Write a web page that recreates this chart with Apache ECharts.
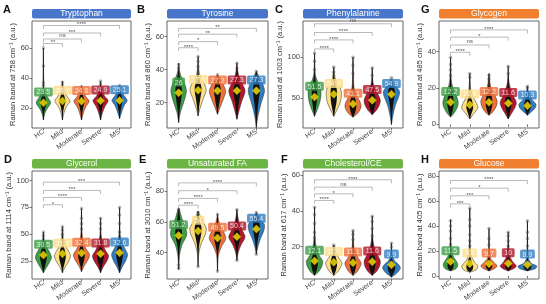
<!DOCTYPE html>
<html><head><meta charset="utf-8">
<script src="https://cdn.jsdelivr.net/npm/echarts@6/dist/echarts.min.js"></script>
<style>html,body{margin:0;padding:0;background:#fff}#c{width:546px;height:304px}</style>
</head><body><div id="c"></div>
<script>
// ---------------- data ----------------
const categories = ['HC', 'Mild', 'Moderate', 'Severe', 'MS'];
const panelIds = ['A', 'B', 'C', 'G', 'D', 'E', 'F', 'H'];
const panelTitles = ['Tryptophan', 'Tyrosine', 'Phenylalanine', 'Glycogen', 'Glycerol', 'Unsaturated FA', 'Cholesterol/CE', 'Glucose'];
const wavenumbers = ['758', '860', '1003', '485', '1114', '3010', '617', '405'];

const meansA = [23.5, 24.7, 24.6, 24.9, 25.1];
const meansB = [26, 27.6, 27.2, 27.3, 27.3];
const meansC = [51.5, 54.9, 43.1, 47.5, 54.9];
const meansG = [12.2, 10.8, 12.2, 11.6, 10.3];
const meansD = [30.5, 31.7, 32.4, 31.8, 32.6];
const meansE = [51.2, 54, 49.5, 50.4, 55.4];
const meansF = [12.1, 11.3, 11.1, 11.6, 9.9];
const meansH = [11.5, 9.8, 9.7, 10, 8.9];

const yTicksA = [20, 40, 60];
const yTicksB = [20, 40, 60];
const yTicksC = [50, 100];
const yTicksG = [0, 20, 40];
const yTicksD = [25, 50, 75, 100];
const yTicksE = [40, 60, 80];
const yTicksF = [20, 40, 60];
const yTicksH = [0, 20, 40, 60, 80];

const yRangeA = [6.7, 78];
const yRangeB = [4.7, 69.5];
const yRangeC = [13.8, 144];
const yRangeG = [-2, 56.9];
const yRangeD = [8.2, 109];
const yRangeE = [22.9, 93];
const yRangeF = [2, 62.2];
const yRangeH = [-2.4, 83.8];

// [target category (1-based), y value, label] ; all brackets start at HC
const bracketsA = [[2, 63, '**'], [3, 66, 'ns'], [4, 70, '***'], [5, 75, '****']];
const bracketsB = [[2, 53.3, '****'], [3, 57, '*'], [4, 61.5, '**'], [5, 65, '**']];
const bracketsC = [[2, 110, '****'], [3, 121, '****'], [4, 130, '****'], [5, 140.6, 'ns']];
const bracketsG = [[2, 39.7, '****'], [3, 43.7, 'ns'], [4, 48, '*'], [5, 52, '****']];
const bracketsD = [[2, 77.5, '*'], [3, 84.3, '****'], [4, 90.9, '***'], [5, 98.6, '***']];
const bracketsE = [[2, 70.8, '****'], [3, 75.2, '****'], [4, 80.2, '*'], [5, 85.3, '****']];
const bracketsF = [[2, 45.8, '****'], [3, 49.5, '*'], [4, 53.2, 'ns'], [5, 57.3, '****']];
const bracketsH = [[2, 57.6, '***'], [3, 64, '***'], [4, 70.1, '*'], [5, 76.2, '****']];

// violin outlines per category: [value, relative half width]
const violinsA = [
  [[12, 0], [16, 0.15], [19, 0.4], [23.5, 0.9], [27, 0.55], [31, 0.12], [37, 0.04], [60, 0]],
  [[12, 0], [17, 0.2], [21, 0.5], [24.5, 0.95], [28, 0.55], [33, 0.1], [38, 0]],
  [[12, 0], [17, 0.25], [21, 0.55], [24.5, 0.95], [28, 0.5], [33, 0.1], [35, 0]],
  [[12, 0], [17, 0.25], [21, 0.55], [25, 0.95], [28, 0.5], [33, 0.1], [38, 0]],
  [[13, 0], [18, 0.3], [22, 0.6], [25, 0.95], [28, 0.6], [32, 0.1], [35, 0]]
];
const violinsB = [
  [[8, 0], [14, 0.2], [20, 0.6], [27, 0.95], [32, 0.7], [36, 0.3], [40, 0.08], [44, 0]],
  [[12, 0], [16, 0.2], [22, 0.6], [28, 1.0], [33, 0.6], [37, 0.2], [42, 0.05], [48, 0]],
  [[13, 0], [17, 0.3], [22, 0.7], [27, 1.0], [31, 0.7], [35, 0.25], [37, 0]],
  [[10, 0], [15, 0.25], [21, 0.6], [27, 1.0], [31, 0.7], [35, 0.3], [40, 0.08], [44, 0]],
  [[5, 0], [12, 0.2], [20, 0.6], [27, 1.0], [31, 0.8], [35, 0.4], [38, 0.1], [39, 0]]
];
const violinsC = [
  [[28, 0], [35, 0.3], [45, 0.65], [55, 0.8], [65, 0.7], [72, 0.3], [80, 0.08], [105, 0]],
  [[28, 0], [35, 0.35], [45, 0.8], [55, 0.95], [63, 0.8], [70, 0.3], [80, 0.08], [88, 0]],
  [[27, 0], [32, 0.6], [40, 1.0], [47, 0.8], [55, 0.35], [65, 0.1], [80, 0.04], [100, 0]],
  [[30, 0], [35, 0.5], [42, 0.9], [48, 1.0], [55, 0.7], [62, 0.3], [70, 0.08], [87, 0]],
  [[18, 0], [30, 0.2], [42, 0.5], [52, 0.9], [58, 1.0], [63, 0.7], [68, 0.2], [73, 0]]
];
const violinsG = [
  [[4, 0], [6, 0.4], [9, 0.8], [12, 0.95], [16, 0.7], [20, 0.3], [25, 0.08], [37, 0]],
  [[3, 0], [6, 0.5], [9, 1.0], [12, 0.8], [16, 0.3], [20, 0.1], [28, 0]],
  [[5, 0], [7, 0.5], [10, 0.9], [13, 1.0], [17, 0.6], [21, 0.2], [28, 0]],
  [[3, 0], [6, 0.4], [9, 0.8], [12, 1.0], [16, 0.6], [21, 0.2], [25, 0.05], [32, 0]],
  [[5, 0], [7, 0.5], [9, 0.95], [11, 1.05], [14, 0.5], [18, 0.1], [21, 0]]
];
const violinsD = [
  [[14, 0], [18, 0.3], [23, 0.7], [28, 1.0], [33, 0.8], [38, 0.4], [45, 0.1], [52, 0]],
  [[14, 0], [19, 0.3], [25, 0.8], [30, 1.0], [35, 0.7], [40, 0.3], [47, 0.1], [57, 0]],
  [[15, 0], [20, 0.3], [26, 0.8], [31, 1.0], [36, 0.6], [42, 0.25], [52, 0.06], [74, 0]],
  [[14, 0], [19, 0.3], [25, 0.8], [30, 1.0], [35, 0.6], [42, 0.25], [50, 0.06], [65, 0]],
  [[14, 0], [19, 0.3], [25, 0.75], [31, 1.0], [36, 0.7], [42, 0.3], [50, 0.06], [75, 0]]
];
const violinsE = [
  [[29, 0], [38, 0.1], [45, 0.4], [50, 0.9], [53, 1.0], [58, 0.7], [63, 0.35], [68, 0.1], [69, 0]],
  [[31, 0], [40, 0.1], [46, 0.4], [52, 0.9], [56, 1.0], [60, 0.6], [64, 0.25], [67, 0]],
  [[28, 0], [38, 0.1], [44, 0.5], [49, 1.0], [53, 0.8], [57, 0.35], [62, 0.1], [65, 0]],
  [[35, 0], [40, 0.15], [45, 0.5], [50, 1.0], [54, 0.7], [58, 0.35], [63, 0.12], [68, 0]],
  [[39, 0], [44, 0.2], [49, 0.5], [54, 0.9], [58, 1.0], [61, 0.6], [64, 0.2], [66, 0]]
];
const violinsF = [
  [[4, 0], [6, 0.5], [9, 0.9], [12, 1.0], [15, 0.6], [19, 0.25], [25, 0.06], [42, 0]],
  [[4, 0], [6, 0.5], [9, 0.9], [11, 1.0], [14, 0.6], [17, 0.2], [21, 0]],
  [[4, 0], [6, 0.5], [9, 0.9], [11, 1.0], [14, 0.6], [18, 0.2], [22, 0.06], [29, 0]],
  [[4, 0], [6, 0.5], [9, 0.9], [12, 1.0], [15, 0.7], [19, 0.3], [25, 0.06], [37, 0]],
  [[3, 0], [5, 0.6], [8, 1.1], [10, 0.9], [12, 0.4], [15, 0.1], [22, 0]]
];
const violinsH = [
  [[4, 0], [6, 0.7], [9, 0.9], [12, 0.7], [16, 0.3], [22, 0.08], [45, 0]],
  [[3, 0], [5, 0.8], [8, 1.0], [11, 0.6], [15, 0.25], [22, 0.06], [54, 0]],
  [[4, 0], [6, 0.7], [8, 1.0], [11, 0.6], [14, 0.2], [20, 0.05], [38, 0]],
  [[4, 0], [6, 0.7], [8, 1.0], [11, 0.6], [15, 0.25], [22, 0.06], [35, 0]],
  [[4, 0], [6, 1.0], [8, 1.15], [10, 0.5], [14, 0.12], [20, 0.04], [44, 0]]
];

// sparse individual spectra visible outside the dense core: [category, value]
const outliersA = [[1, 60], [1, 48], [1, 37], [1, 35], [2, 37], [2, 35], [3, 34], [4, 38], [4, 36], [5, 35], [5, 33]];
const outliersB = [[1, 43], [1, 41], [2, 48], [2, 45], [2, 42], [3, 37], [4, 44], [4, 41], [5, 39], [5, 37]];
const outliersC = [[1, 105], [1, 95], [1, 85], [2, 88], [2, 82], [3, 100], [3, 90], [3, 80], [4, 87], [4, 78], [5, 75], [5, 73]];
const outliersG = [[1, 37], [1, 33], [1, 30], [1, 27], [2, 28], [2, 26], [3, 27], [3, 25], [4, 32], [4, 28], [5, 21], [5, 20]];
const outliersD = [[1, 52], [1, 49], [2, 57], [2, 54], [2, 50], [3, 74], [3, 65], [3, 60], [3, 55], [4, 65], [4, 60], [4, 55], [5, 75], [5, 68], [5, 60], [5, 52]];
const outliersE = [[1, 68], [1, 30], [1, 32], [2, 66], [2, 31], [3, 65], [3, 28], [4, 68], [4, 35], [5, 66], [5, 39]];
const outliersF = [[1, 42], [1, 38], [1, 33], [1, 28], [1, 25], [2, 21], [2, 20], [3, 29], [3, 27], [3, 24], [4, 37], [4, 34], [4, 30], [4, 26], [5, 22], [5, 20]];
const outliersH = [[1, 44], [1, 40], [1, 36], [1, 30], [1, 25], [2, 54], [2, 45], [2, 40], [2, 33], [2, 28], [2, 24], [3, 38], [3, 30], [3, 25], [4, 35], [4, 32], [4, 28], [4, 24], [5, 44], [5, 35], [5, 30], [5, 24]];

// ---------------- styling / layout ----------------
const FONT = '"Liberation Sans", Arial, sans-serif';
const catColors = ['#3E9E46', '#FDDF8A', '#F0703A', '#B2182B', '#2F7DC0'];
const stripBlue = '#4776CB', stripOrange = '#F08030', stripGreen = '#6CB444';
const stripColors = [stripBlue, stripBlue, stripBlue, stripOrange, stripGreen, stripGreen, stripGreen, stripOrange];
const colLefts = [32, 167, 303, 439];
const colWidths = [99, 101, 100, 100];
const rowTops = [21, 171];
const rowHeights = [107, 108];
const letterX = [3, 137, 275, 421, 4, 139, 281, 421];

const panelData = [
  [meansA, yTicksA, yRangeA, bracketsA, violinsA, outliersA],
  [meansB, yTicksB, yRangeB, bracketsB, violinsB, outliersB],
  [meansC, yTicksC, yRangeC, bracketsC, violinsC, outliersC],
  [meansG, yTicksG, yRangeG, bracketsG, violinsG, outliersG],
  [meansD, yTicksD, yRangeD, bracketsD, violinsD, outliersD],
  [meansE, yTicksE, yRangeE, bracketsE, violinsE, outliersE],
  [meansF, yTicksF, yRangeF, bracketsF, violinsF, outliersF],
  [meansH, yTicksH, yRangeH, bracketsH, violinsH, outliersH]
];

const grids = [], xAxes = [], yAxes = [], series = [], graphics = [];
const HALF = 0.42;

panelData.forEach(([means, ticks, range, brackets, violins, outliers], i) => {
  const row = i < 4 ? 0 : 1, col = i % 4;
  const left = colLefts[col], top = rowTops[row], w = colWidths[col], h = rowHeights[row];
  grids.push({ left: left, top: top, width: w, height: h, show: true, borderColor: '#555', borderWidth: 0.9, backgroundColor: 'transparent' });
  xAxes.push({
    gridIndex: i, type: 'value', min: 0.4, max: 5.6,
    axisLine: { show: false }, splitLine: { show: false },
    axisTick: { show: true, customValues: [1, 2, 3, 4, 5], length: 2.5, lineStyle: { color: '#555', width: 0.8 } },
    axisLabel: { customValues: [1, 2, 3, 4, 5], formatter: v => categories[Math.round(v) - 1], rotate: 35, fontSize: 7, color: '#444', margin: 3, fontFamily: FONT }
  });
  yAxes.push({
    gridIndex: i, type: 'value', min: range[0], max: range[1],
    axisLine: { show: false }, splitLine: { show: false },
    axisTick: { show: true, customValues: ticks, length: 2.5, lineStyle: { color: '#555', width: 0.8 } },
    axisLabel: { customValues: ticks, fontSize: 7.5, color: '#444', margin: 3, fontFamily: FONT },
    name: 'Raman band at ' + wavenumbers[i] + ' cm\u207B\u00B9 (a.u.)',
    nameLocation: 'middle', nameGap: 15,
    nameTextStyle: { fontSize: 7.5, color: '#333', fontFamily: FONT }
  });

  // violins
  series.push({
    type: 'custom', xAxisIndex: i, yAxisIndex: i, clip: true, z: 2,
    data: categories.map((c, k) => [k + 1, means[k]]),
    renderItem: (params, api) => {
      const k = params.dataIndex, x = k + 1, shp = violins[k];
      const rev = shp.slice().reverse();
      const outer = shp.map(([v, ww]) => api.coord([x + ww * HALF, v]))
        .concat(rev.map(([v, ww]) => api.coord([x - ww * HALF, v])));
      const inner = shp.map(([v, ww]) => api.coord([x + ww * HALF * 0.42, v]))
        .concat(rev.map(([v, ww]) => api.coord([x - ww * HALF * 0.42, v])));
      const bot = api.coord([x, shp[0][0]]), tp = api.coord([x, shp[shp.length - 1][0]]);
      return {
        type: 'group', children: [
          { type: 'polygon', shape: { points: outer, smooth: 0.3 }, style: { fill: catColors[k], stroke: '#2a2a2a', lineWidth: 0.5 } },
          { type: 'line', shape: { x1: bot[0], y1: bot[1], x2: tp[0], y2: tp[1] }, style: { stroke: 'rgba(20,20,20,0.75)', lineWidth: 1.1 } },
          { type: 'polygon', shape: { points: inner, smooth: 0.3 }, style: { fill: '#111' } }
        ]
      };
    }
  });
  // sparse points
  series.push({
    type: 'scatter', xAxisIndex: i, yAxisIndex: i, z: 3, silent: true,
    data: outliers, symbolSize: 3,
    itemStyle: { color: 'rgba(80,80,80,0.45)', borderColor: 'rgba(40,40,40,0.5)', borderWidth: 0.4 }
  });
  // means with labels
  series.push({
    type: 'scatter', xAxisIndex: i, yAxisIndex: i, z: 5,
    data: means.map((m, k) => ({
      value: [k + 1, m],
      label: { backgroundColor: catColors[k] }
    })),
    symbol: 'diamond', symbolSize: 8,
    itemStyle: { color: '#FFE600', borderColor: '#E8C800', borderWidth: 0.5 },
    label: {
      show: true, position: 'top', distance: 2,
      formatter: p => String(p.value[1]),
      color: '#fff', fontSize: 7, fontFamily: FONT,
      padding: [1.5, 2.5, 0.5, 2.5], borderRadius: 1.5
    }
  });
  // significance brackets
  series.push({
    type: 'custom', xAxisIndex: i, yAxisIndex: i, z: 4, clip: false,
    data: brackets.map(b => [b[0], b[1]]),
    renderItem: (params, api) => {
      const b = brackets[params.dataIndex];
      const a = api.coord([1, b[1]]), e = api.coord([b[0], b[1]]);
      const isStar = b[2] !== 'ns';
      return {
        type: 'group', children: [
          { type: 'polyline', shape: { points: [[a[0], a[1] + 3.5], [a[0], a[1]], [e[0], e[1]], [e[0], e[1] + 3.5]] }, style: { stroke: '#8c8c8c', lineWidth: 0.6, fill: null } },
          { type: 'text', x: (a[0] + e[0]) / 2, y: a[1] + (isStar ? 2.2 : -0.3), style: { text: b[2], fontSize: 6, fill: '#555', align: 'center', verticalAlign: 'bottom', fontFamily: FONT } }
        ]
      };
    }
  });

  // title strip and panel letter
  graphics.push({
    type: 'group', children: [
      { type: 'rect', shape: { x: left, y: top - 12, width: w, height: 9.5, r: 2 }, style: { fill: stripColors[i] } },
      { type: 'text', x: left + w / 2, y: top - 7.2, style: { text: panelTitles[i], fill: '#fff', fontSize: 8.5, align: 'center', verticalAlign: 'middle', fontFamily: FONT } },
      { type: 'text', x: letterX[i], y: top - 17, style: { text: panelIds[i], fill: '#111', fontSize: 11, fontWeight: 'bold', fontFamily: FONT } }
    ]
  });
});

const chart = echarts.init(document.getElementById('c'), null, { renderer: 'canvas' });
chart.setOption({
  animation: false,
  backgroundColor: '#fff',
  grid: grids, xAxis: xAxes, yAxis: yAxes, series: series, graphic: graphics
});
</script>
</body></html>
